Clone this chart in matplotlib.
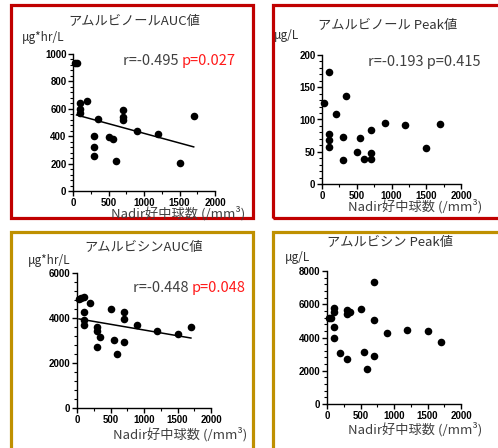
import numpy as np
import matplotlib
matplotlib.use("Agg")
import matplotlib.pyplot as plt
from matplotlib.patches import Rectangle
from matplotlib.ticker import MultipleLocator, AutoMinorLocator

plt.rcParams['font.family'] = ['Noto Sans CJK JP', 'DejaVu Sans']

# ---------------- data ----------------
# アムルビノール AUC
ol_auc_x = [30, 60, 100, 100, 100, 200, 350, 300, 300, 300, 500, 560, 600, 700, 700, 700, 900, 1200, 1500, 1700]
ol_auc_y = [935, 935, 640, 595, 570, 654, 525, 400, 320, 256, 393, 376, 221, 588, 540, 518, 435, 416, 207, 546]
# アムルビノール Peak
ol_pk_x = [30, 100, 350, 200, 100, 100, 100, 300, 300, 500, 550, 600, 700, 700, 700, 900, 1200, 1500, 1700]
ol_pk_y = [126, 173, 137, 108, 77, 68, 58, 73, 37, 49, 72, 39, 84, 48, 39, 95, 91, 56, 93]
# アムルビシン AUC
cin_auc_x = [30, 60, 100, 100, 100, 100, 200, 300, 300, 300, 350, 500, 550, 600, 700, 700, 700, 900, 1200, 1500, 1700]
cin_auc_y = [4850, 4900, 4950, 4270, 3925, 3670, 4670, 3600, 3440, 2710, 3140, 4415, 3040, 2400, 4270, 3960, 2930, 3670, 3440, 3290, 3590]
# アムルビシン Peak
cin_pk_x = [30, 60, 100, 100, 100, 100, 200, 300, 300, 350, 300, 500, 550, 600, 700, 700, 700, 900, 1200, 1500, 1700]
cin_pk_y = [5200, 5200, 5780, 5540, 4640, 3940, 3040, 5640, 5440, 5540, 2680, 5740, 3140, 2100, 7340, 5080, 2900, 4300, 4440, 4380, 3740]

# regression lines (x range, y at ends)
fit_ol_auc_x = [50, 1700]
fit_ol_auc_y = [555, 322]
fit_cin_auc_x = [30, 1700]
fit_cin_auc_y = [3960, 3110]

titles = ['アムルビノールAUC値', 'アムルビノール Peak値', 'アムルビシンAUC値', 'アムルビシン Peak値']
units = ['μg*hr/L', 'μg/L', 'μg*hr/L', 'μg/L']
r_texts = ['r=-0.495 ', 'r=-0.193 p=0.415', 'r=-0.448 ', None]
p_texts = ['p=0.027', None, 'p=0.048', None]
xlabel = 'Nadir好中球数 (/mm³)'
ymax = [1000, 200, 6000, 8000]
ystep = [200, 50, 2000, 2000]
fits = [(fit_ol_auc_x, fit_ol_auc_y), None, (fit_cin_auc_x, fit_cin_auc_y), None]

W, H = 498, 448
fig = plt.figure(figsize=(W / 100, H / 100), dpi=100)
fig.patch.set_facecolor('white')

def fx(px):
    return px / W

def fy(py):
    return 1 - py / H

# panel borders (pixel coords: left, top, right, bottom)
red = '#c00000'
gold = '#bf9000'
borders = [(11, 5, 253, 218, red), (273, 5, 520, 218, red),
           (11, 232, 253, 470, gold), (273, 232, 520, 470, gold)]
for l, t, r, b, c in borders:
    fig.patches.append(Rectangle((fx(l), fy(b)), fx(r - l), (b - t) / H,
                                 transform=fig.transFigure, fill=False,
                                 edgecolor=c, linewidth=2.3, clip_on=False))

# axes pixel boxes: x0, x2000, y0, ytop
boxes = [(73, 215, 191, 54), (322, 461, 184, 55), (77, 211, 408, 273), (327, 461, 404, 271)]
datasets = [(ol_auc_x, ol_auc_y), (ol_pk_x, ol_pk_y), (cin_auc_x, cin_auc_y), (cin_pk_x, cin_pk_y)]

title_pos = [(134, 22), (388, 25), (144, 247), (390, 242)]
unit_pos = [(22, 37), (274, 35), (28, 260), (285, 258)]
r_pos = [(123, 61), (368, 62), (133, 288), None]
xl_pos = [(178, 218), (415, 211), (180, 439), (415, 434)]

txtc = '#404040'

for i in range(4):
    x0, x1, y0, yt = boxes[i]
    ax = fig.add_axes([fx(x0), fy(y0), fx(x1 - x0), (y0 - yt) / H])
    xs, ys = datasets[i]
    ax.scatter(xs, ys, s=30, color='black', zorder=3, clip_on=False, linewidths=0)
    if fits[i] is not None:
        ax.plot(fits[i][0], fits[i][1], color='black', lw=1.1, zorder=2)
    ax.set_xlim(0, 2000)
    ax.set_ylim(0, ymax[i])
    ax.set_facecolor('none')
    for s in ['top', 'right']:
        ax.spines[s].set_visible(False)
    for s in ['left', 'bottom']:
        ax.spines[s].set_linewidth(1.0)
        ax.spines[s].set_color('black')
    ax.xaxis.set_major_locator(MultipleLocator(500))
    ax.xaxis.set_minor_locator(AutoMinorLocator(2))
    ax.yaxis.set_major_locator(MultipleLocator(ystep[i]))
    ax.yaxis.set_minor_locator(AutoMinorLocator(5))
    ax.tick_params(which='major', length=3.5, width=1.0, pad=1.2, colors='black')
    ax.tick_params(which='minor', length=2, width=0.8)
    for lab in ax.get_xticklabels() + ax.get_yticklabels():
        lab.set_fontfamily('Liberation Sans')
        lab.set_fontweight('bold')
        lab.set_fontsize(7)

    tx, ty = title_pos[i]
    fig.text(fx(tx), fy(ty), titles[i], ha='center', va='center', fontsize=9.5, color='#333333')
    ux, uy = unit_pos[i]
    fig.text(fx(ux), fy(uy), units[i], ha='left', va='center', fontsize=8.5, color='#333333')
    lx_, ly_ = xl_pos[i]
    fig.text(fx(lx_), fy(ly_), xlabel, ha='center', va='baseline', fontsize=9.5, color=txtc)
    if r_texts[i] is not None:
        rx, ry = r_pos[i]
        t1 = fig.text(fx(rx), fy(ry), r_texts[i], ha='left', va='center', fontsize=10.5, color=txtc)
        if p_texts[i] is not None:
            plt.annotate(p_texts[i], xy=(1, 0.5), xycoords=t1, ha='left', va='center',
                         fontsize=10.5, color='#ff1a1a', annotation_clip=False)

fig.savefig('out.png', dpi=100, facecolor='white')
